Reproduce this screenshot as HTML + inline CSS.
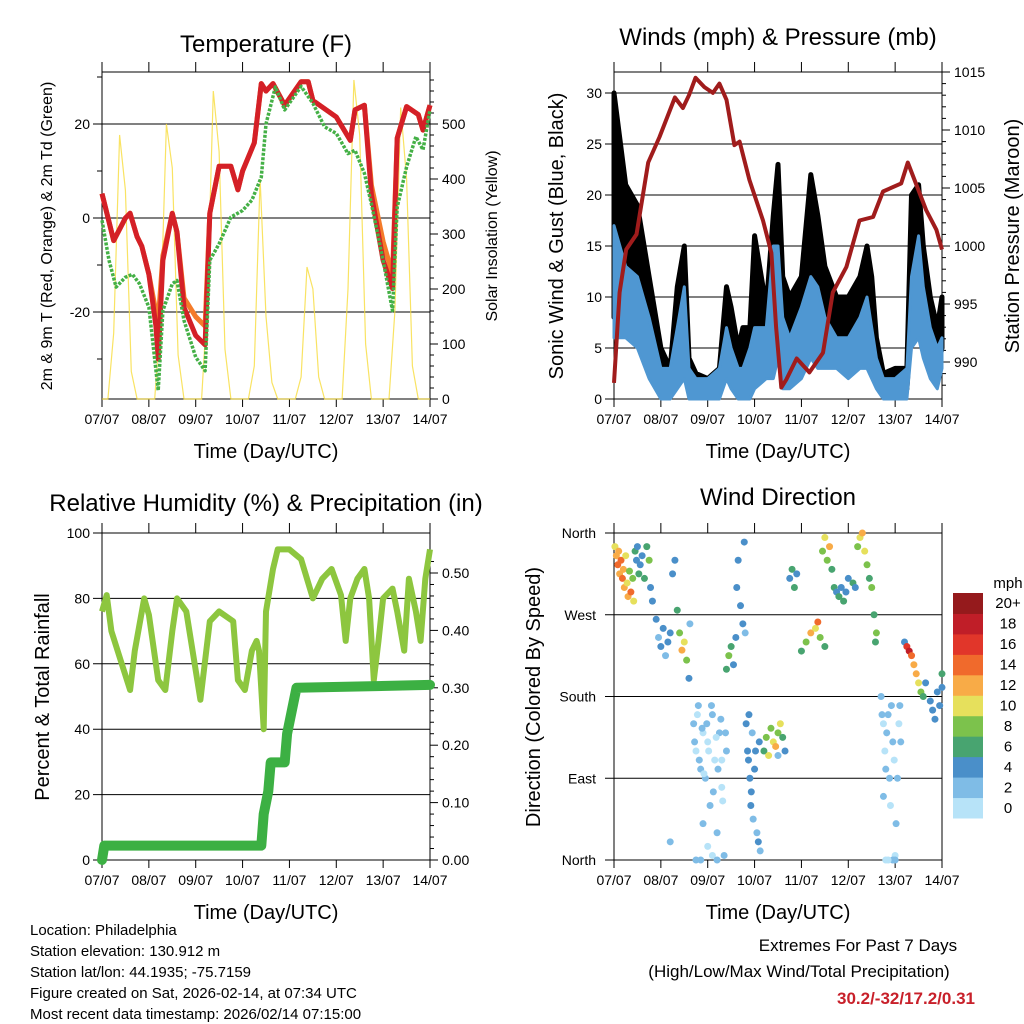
<!DOCTYPE html>
<html><head><meta charset="utf-8">
<style>
html,body{margin:0;padding:0;background:#fff;}
svg{display:block;font-family:"Liberation Sans",Arial,sans-serif;}
</style></head>
<body>
<svg id="root" width="1024" height="1024" viewBox="0 0 1024 1024" xmlns="http://www.w3.org/2000/svg">
<rect width="1024" height="1024" fill="#fff"/>
<text x="266" y="52" font-size="24" text-anchor="middle">Temperature (F)</text>
<text x="778" y="45" font-size="24" text-anchor="middle">Winds (mph) &amp; Pressure (mb)</text>
<text x="266" y="511" font-size="24" text-anchor="middle">Relative Humidity (%) &amp; Precipitation (in)</text>
<text x="778" y="505" font-size="24" text-anchor="middle">Wind Direction</text>
<text transform="translate(52,236) rotate(-90)" font-size="16" text-anchor="middle">2m &amp; 9m T (Red, Orange) &amp; 2m Td (Green)</text>
<text transform="translate(497,236) rotate(-90)" font-size="16" text-anchor="middle">Solar Insolation (Yellow)</text>
<text transform="translate(563,236) rotate(-90)" font-size="20" text-anchor="middle">Sonic Wind &amp; Gust (Blue, Black)</text>
<text transform="translate(1019,236) rotate(-90)" font-size="20" text-anchor="middle">Station Pressure (Maroon)</text>
<text transform="translate(49,697) rotate(-90)" font-size="20" text-anchor="middle">Percent &amp; Total Rainfall</text>
<text transform="translate(540,697) rotate(-90)" font-size="20" text-anchor="middle">Direction (Colored By Speed)</text>
<text x="266" y="458" font-size="20" text-anchor="middle">Time (Day/UTC)</text>
<text x="778" y="458" font-size="20" text-anchor="middle">Time (Day/UTC)</text>
<text x="266" y="919" font-size="20" text-anchor="middle">Time (Day/UTC)</text>
<text x="778" y="919" font-size="20" text-anchor="middle">Time (Day/UTC)</text>
<g font-size="15">
<text x="30" y="935">Location: Philadelphia</text>
<text x="30" y="956">Station elevation: 130.912 m</text>
<text x="30" y="977">Station lat/lon: 44.1935; -75.7159</text>
<text x="30" y="998">Figure created on Sat, 2026-02-14, at 07:34 UTC</text>
<text x="30" y="1019">Most recent data timestamp: 2026/02/14 07:15:00</text>
</g>
<text x="858" y="951" font-size="17" text-anchor="middle">Extremes For Past 7 Days</text>
<text x="799" y="977" font-size="17" text-anchor="middle">(High/Low/Max Wind/Total Precipitation)</text>
<text x="975" y="1004" font-size="17" font-weight="bold" fill="#c8202a" text-anchor="end">30.2/-32/17.2/0.31</text>
</svg>
<script>
const days=["07/07","08/07","09/07","10/07","11/07","12/07","13/07","14/07"];
// Temperature
const tT=[0,0.25,0.5,0.6,0.75,0.85,1.0,1.15,1.2,1.3,1.5,1.6,1.75,2.0,2.2,2.3,2.5,2.75,2.9,3.0,3.25,3.4,3.5,3.65,3.9,4.25,4.4,4.5,5.0,5.3,5.4,5.6,5.75,6.0,6.2,6.3,6.5,6.75,6.85,7.0];
const tRed=[5.2,-4.8,0,1,-4,-6,-12,-23,-30,-9,1,-3,-19,-25,-27,1,11,11,6,10,16,28.6,27,28.6,24,29,29,25,21.5,16.5,23,24,5,-9,-15,17,23.7,22,18.7,24];
const tOrange=[5.2,-4.8,0,1,-4,-6,-12,-20,-22,-8,1,-3,-17,-21,-23,1,11,11,6,10,16,28.6,27,28.6,24,29,29,25,21.5,16.5,23,24,7,-5,-12,17,23.7,22,18.7,24];
const tD=[0,0.15,0.3,0.5,0.65,0.8,1.0,1.2,1.3,1.5,1.6,1.75,2.0,2.2,2.3,2.5,2.75,3.0,3.2,3.4,3.5,3.7,3.9,4.25,4.5,4.75,5.0,5.25,5.4,5.6,5.75,6.0,6.2,6.3,6.5,6.7,6.85,7.0];
const tDew=[-0.5,-9,-14.7,-12.6,-12,-14,-19,-36.7,-19.7,-14,-13.3,-21.8,-29.6,-32.5,-9,-5.5,0.2,1.6,3.8,8.7,20,27.9,23,28,24.4,19.4,18,13.7,14.4,9.5,3,-9,-19.7,2.3,10.9,17.3,14.5,23];
const solar=[0,0,120,480,380,50,0,0, 0,0,150,500,420,80,0,0, 0,0,180,560,450,90,0,0, 0,0,60,400,150,30,0,0, 0,0,40,240,200,40,0,0, 0,0,200,580,480,100,0,0, 0,0,160,530,400,60,0,0, 0];
// Wind
const wT=[0,0.25,0.5,0.75,1.0,1.2,1.35,1.5,1.6,1.75,2.0,2.25,2.4,2.5,2.65,2.75,2.9,3.0,3.25,3.4,3.5,3.6,3.75,4.0,4.2,4.35,4.5,4.75,5.0,5.25,5.4,5.5,5.6,5.75,6.0,6.25,6.35,6.5,6.6,6.75,6.9,7.0];
const windLo=[6,6,5,2,0,0,1,2,0,0,0,0,2,1,0,0,0,1,2,2,4,1,1,2,4,3,3,3,2,3,3,2,1,0,0,0,5,6,4,2,1,3];
const windHi=[17,13,12,8,3,3,7,11,3,2,2,3,7,5,3,3,5,7,7,15,15,8,6,9,12,11,8,6,6,8,10,7,4,2,2,3,12,16,11,7,5,6];
const gustLo=[8,9,8,4,2,2,3,3,1,1,1,1,3,3,2,2,3,2,4,5,6,3,3,4,8,6,5,5,5,5,6,4,3,1,1,1,8,9,7,4,3,5];
const gustHi=[30,21,19,12,5,3,11,15,4,2.5,2,3,11,9,5,7,7,16,9,18,23,12,10,12,22,18,13,10,10,12,15,12,6,2.5,3,3,20,21,15,10,7,10];
const pT=[0,0.12,0.26,0.48,0.73,0.97,1.3,1.47,1.6,1.74,1.93,2.11,2.25,2.4,2.57,2.68,2.89,3.18,3.36,3.46,3.57,3.68,3.9,4.17,4.46,4.67,4.96,5.24,5.53,5.74,6.13,6.27,6.66,6.88,7.0];
const pV=[988.2,996,999.7,1001,1007.2,1009.4,1012.8,1011.9,1013,1014.5,1013.7,1013.2,1014,1012.6,1008.7,1009,1005.7,1002.2,999.4,993,987.8,988.5,990.3,989.1,990.8,996,998.2,1002.2,1002.5,1004.7,1005.4,1007.2,1003.1,1001.4,999.7];
// Humidity & rain
const rhT=[0,0.1,0.2,0.4,0.6,0.7,0.9,1.0,1.2,1.35,1.5,1.6,1.8,2.0,2.1,2.3,2.5,2.8,2.9,3.05,3.2,3.3,3.35,3.45,3.5,3.65,3.75,4.0,4.25,4.5,4.7,4.9,5.1,5.2,5.3,5.45,5.6,5.7,5.8,5.9,6.0,6.2,6.3,6.45,6.55,6.7,6.8,6.9,7.0];
const rhV=[76,81,70,61,52,64,80,75,55,52,70,80,76,58,49,73,76,73,55,52,64,67,64,40,76,89,95,95,92,80,86,89,81,67,80,86,89,80,55,67,80,83,76,64,86,76,67,86,95];
const rainT=[0,0.05,3.4,3.45,3.55,3.6,3.9,3.95,4.05,4.15,7.0];
const rainV=[0,0.025,0.025,0.08,0.12,0.17,0.17,0.22,0.26,0.3,0.305];
// Wind direction
const dT=[0.02,0.05,0.08,0.1,0.12,0.15,0.18,0.2,0.22,0.25,0.28,0.3,0.33,0.36,0.4,0.42,0.45,0.48,0.5,0.53,0.56,0.6,0.65,0.7,0.75,0.78,0.82,
0.9,0.95,1.0,1.05,1.1,1.15,1.2,1.25,1.3,1.35,1.4,1.45,1.5,1.55,1.6,1.62,
1.7,1.75,1.8,1.85,1.9,1.95,2.0,2.05,2.1,2.15,2.2,2.25,2.3,2.35,2.4,2.1,1.85,1.2,
2.4,2.45,2.5,2.55,2.6,2.62,2.65,2.7,2.75,2.78,2.8,
2.85,2.9,2.92,2.95,3.0,3.05,3.1,3.12,2.88,
3.2,3.25,3.3,3.35,3.4,3.45,3.5,3.55,3.6,3.65,3.5,
3.75,3.8,3.85,3.9,4.0,4.1,4.2,4.3,4.35,4.4,4.5,
4.45,4.5,4.55,4.6,4.65,4.7,4.75,4.8,4.85,4.9,4.95,5.0,5.1,5.15,
5.2,5.25,5.3,5.35,5.4,5.45,5.5,5.55,5.6,5.58,
5.7,5.75,5.8,5.85,5.9,5.95,6.0,6.05,6.1,5.8,5.95,
6.2,6.25,6.3,6.35,6.4,6.45,6.5,6.55,6.6,6.65,6.75,6.8,6.85,6.9,6.95,7.0,7.0,
1.72,1.78,1.82,1.88,1.92,1.98,2.02,2.08,2.12,2.18,2.22,2.28,2.32,2.38,1.9,2.0,2.2,1.75,2.3,
2.82,2.87,2.93,2.97,3.02,3.08,
5.72,5.78,5.82,5.88,5.92,5.98,6.02,6.08,6.12,5.85,6.0,5.75];
const dDir=[345,335,325,340,315,330,310,320,300,335,305,290,318,295,310,285,340,330,345,315,325,335,310,345,330,300,285,
265,245,235,255,225,240,250,315,330,275,250,231,240,220,200,260,
150,120,170,100,140,90,130,60,160,110,30,140,80,5,120,5,0,20,
210,225,235,215,245,300,330,280,260,350,250,
120,90,60,140,100,30,130,10,160,
120,135,115,145,130,125,140,150,135,120,115,
310,320,300,315,230,240,250,255,262,245,235,
340,355,330,345,320,300,295,290,300,285,295,310,305,300,
345,355,360,340,325,310,300,270,250,240,
180,150,100,160,60,130,5,90,170,0,0,
240,235,230,225,215,205,195,185,180,195,175,165,155,185,170,190,205,
130,160,110,145,95,150,120,170,75,135,100,155,65,140,40,15,0,0,110,
150,110,75,45,120,20,
160,120,140,90,170,110,40,150,130,0,0,70];
const dSpd=[10,12,13,11,12,14,13,11,12,10,9,12,8,13,7,9,5,4,4,6,4,4,5,6,7,4,3,
3,2,3,4,2,3,4,3,4,6,8,12,10,8,3,2,
1,0,2,1,0,1,0,2,1,0,1,1,0,1,2,0,1,2,
6,8,6,4,4,3,4,3,4,3,2,
3,4,3,2,3,2,3,2,4,
6,8,10,7,9,12,8,10,6,4,2,
4,5,6,3,6,8,12,10,13,8,6,
8,10,7,11,6,5,4,6,4,5,3,4,6,4,
8,10,11,9,8,6,8,6,7,5,
1,0,1,2,0,1,0,1,2,0,1,
4,16,18,14,12,12,10,8,6,4,4,4,3,4,3,4,6,
1,0,1,2,0,1,0,1,1,0,1,2,0,1,1,0,1,2,0,
3,4,3,2,3,4,
1,0,1,1,2,0,1,0,1,0,1,1];
const cbColors=["#b7e3f8","#7fbce6","#4a8fc9","#48a470","#7cc24c","#e6e05c","#f8ab47","#f06a2c","#e1362a","#c01e28","#951a1c"];
const cbLabels=["0","2","4","6","8","10","12","14","16","18","20+"];

const NS="http://www.w3.org/2000/svg";
const root=document.getElementById('root');
function mk(tag,attrs,parent){const e=document.createElementNS(NS,tag);for(const k in attrs)e.setAttribute(k,attrs[k]);(parent||root).appendChild(e);return e;}
function lin(d0,d1,r0,r1){return v=>r0+(v-d0)/(d1-d0)*(r1-r0);}

function frame(x0,x1,y0,y1,name){
  const g=mk('g',{});
  
  
  const xs=lin(0,7,x0,x1);
  for(let i=0;i<8;i++){
    const x=xs(i);
    mk('line',{x1:x,x2:x,y1:y1,y2:y1+8,stroke:'#000','stroke-width':1},g);
    mk('line',{x1:x,x2:x,y1:y0,y2:y0-10,stroke:'#000','stroke-width':1},g);
    const t=mk('text',{x:x,y:y1+25,'font-size':14,'text-anchor':'middle'},g);
    t.textContent=days[i];
    
    
  }
  return {g,xs};
}
function box(x0,x1,y0,y1,g){mk('rect',{x:x0,y:y0,width:x1-x0,height:y1-y0,fill:'none',stroke:'#000','stroke-width':1},g);}
function pts(xa,ya,xs,ys){return xa.map((t,i)=>xs(t).toFixed(1)+','+ys(ya[i]).toFixed(1)).join(' ');}

// ---------- Panel 1: Temperature ----------
(function(){
  const x0=102,x1=430,y0=72,y1=399;
  const {g,xs}=frame(x0,x1,y0,y1,'temperature');
  const ys=lin(20,-20,124,312);
  const ss=lin(0,500,399,124);
  [-20,0,20].forEach(v=>{
    mk('line',{x1:x0-9,x2:x1,y1:ys(v),y2:ys(v),stroke:'#000','stroke-width':1},g);
    const t=mk('text',{x:x0-12,y:ys(v)+5,'font-size':14,'text-anchor':'end'},g);
    t.textContent=v;
    
    
  });
  [-30,-10,10,30].forEach(v=>mk('line',{x1:x0-5,x2:x0,y1:ys(v),y2:ys(v),stroke:'#000'},g));
  for(let v=0;v<=580;v+=20){const y=ss(v);mk('line',{x1:x1,x2:x1+(v%100==0?8:4),y1:y,y2:y,stroke:'#000'},g);}
  [0,100,200,300,400,500].forEach(v=>{
    const t=mk('text',{x:x1+12,y:ss(v)+5,'font-size':14},g);
    t.textContent=v;
    
    
  });
  const sT=solar.map((v,i)=>i/8);
  const sl=mk('polyline',{points:pts(sT,solar,xs,ss),fill:'none',stroke:'#f8dc3c','stroke-width':1.2,'stroke-opacity':0.8});
  
  
  const ol=mk('polyline',{points:pts(tT,tOrange,xs,ys),fill:'none',stroke:'#f47b2a','stroke-width':5,'stroke-linejoin':'round'});
  
  
  const rl=mk('polyline',{points:pts(tT,tRed,xs,ys),fill:'none',stroke:'#d42027','stroke-width':5,'stroke-linejoin':'round'});
  
  
  const gl=mk('polyline',{points:pts(tD,tDew,xs,ys),fill:'none',stroke:'#44b046','stroke-width':3.5,'stroke-dasharray':'3,1.5','stroke-linejoin':'round'});
  
  
  box(x0,x1,y0,y1,g);
})();

// ---------- Panel 2: Wind & Pressure ----------
(function(){
  const x0=614,x1=942,y0=72,y1=399;
  const {g,xs}=frame(x0,x1,y0,y1,'wind');
  const ys=lin(0,30,399,93);
  const ps=lin(1015,990,72,362);
  [0,5,10,15,20,25,30].forEach(v=>{
    mk('line',{x1:x0-9,x2:x1,y1:ys(v),y2:ys(v),stroke:'#000','stroke-width':1},g);
    const t=mk('text',{x:x0-12,y:ys(v)+5,'font-size':14,'text-anchor':'end'},g);
    t.textContent=v;
    
    
  });
  for(let v=988;v<=1015;v++){const y=ps(v);mk('line',{x1:x1,x2:x1+(v%5==0?8:4),y1:y,y2:y,stroke:'#000'},g);}
  [990,995,1000,1005,1010,1015].forEach(v=>{
    const t=mk('text',{x:x1+12,y:ps(v)+5,'font-size':14},g);
    t.textContent=v;
    
    
  });
  const band=(lo,hi)=>wT.map((t,i)=>xs(t).toFixed(1)+','+ys(hi[i]).toFixed(1)).join(' ')+' '+wT.slice().reverse().map((t,j)=>{const i=wT.length-1-j;return xs(t).toFixed(1)+','+ys(lo[i]).toFixed(1);}).join(' ');
  const gb=mk('polygon',{points:band(gustLo,gustHi),fill:'#000',stroke:'#000','stroke-width':5,'stroke-linejoin':'round'});
  
  
  const wb=mk('polygon',{points:band(windLo,windHi),fill:'#4f97d2',stroke:'#4f97d2','stroke-width':3,'stroke-linejoin':'round'});
  
  
  const pl=mk('polyline',{points:pts(pT,pV,xs,ps),fill:'none',stroke:'#a01c1c','stroke-width':4,'stroke-linejoin':'round'});
  
  
  box(x0,x1,y0,y1,g);
})();

// ---------- Panel 3: Humidity & Rain ----------
(function(){
  const x0=102,x1=430,y0=533,y1=860;
  const {g,xs}=frame(x0,x1,y0,y1,'humidity');
  const ys=lin(0,100,860,533);
  const rs=lin(0,0.5,860,573);
  [0,20,40,60,80,100].forEach(v=>{
    mk('line',{x1:x0-9,x2:x1,y1:ys(v),y2:ys(v),stroke:'#000','stroke-width':1},g);
    const t=mk('text',{x:x0-12,y:ys(v)+5,'font-size':14,'text-anchor':'end'},g);
    t.textContent=v;
    
    
  });
  for(let v=0;v<=0.54;v+=0.02){const y=rs(v);const maj=Math.abs(v*10-Math.round(v*10))<1e-6;mk('line',{x1:x1,x2:x1+(maj?8:4),y1:y,y2:y,stroke:'#000'},g);}
  [0,0.1,0.2,0.3,0.4,0.5].forEach(v=>{
    const t=mk('text',{x:x1+12,y:rs(v)+5,'font-size':14},g);
    t.textContent=v.toFixed(2);
    
    
  });
  const hl=mk('polyline',{points:pts(rhT,rhV,xs,ys),fill:'none',stroke:'#8dc63f','stroke-width':6,'stroke-linejoin':'round'});
  
  
  const rl=mk('polyline',{points:pts(rainT,rainV,xs,rs),fill:'none',stroke:'#3cb043','stroke-width':10,'stroke-linejoin':'round','stroke-linecap':'round'});
  
  
  box(x0,x1,y0,y1,g);
})();

// ---------- Panel 4: Wind direction ----------
(function(){
  const x0=614,x1=942,y0=533,y1=860;
  const {g,xs}=frame(x0,x1,y0,y1,'direction');
  const ys=lin(0,360,860,533);
  const names=["North","East","South","West","North"];
  [0,90,180,270,360].forEach((v,i)=>{
    mk('line',{x1:x0-9,x2:x1,y1:ys(v),y2:ys(v),stroke:'#000','stroke-width':1},g);
    const t=mk('text',{x:x0-18,y:ys(v)+5,'font-size':14,'text-anchor':'end'},g);
    t.textContent=names[i];
    
    
  });
  const dg=mk('g',{});
  
  
  dT.forEach((t,i)=>{
    const bin=Math.min(10,Math.round(dSpd[i]/2));
    const c=mk('circle',{cx:xs(t),cy:ys(dDir[i]),r:3.5,fill:cbColors[bin]},dg);
    
    
  });
  box(x0,x1,y0,y1,g);
  // colorbar
  const cb=mk('g',{});
  
  
  const cy0=593,ch=225/11;
  const u=mk('text',{x:1008,y:588,'font-size':15,'text-anchor':'middle'},cb);
  u.textContent='mph';
  
  
  cbColors.forEach((col,i)=>{
    const y=cy0+(10-i)*ch;
    const r=mk('rect',{x:953,y:y,width:30,height:ch+0.5,fill:col},cb);
    
    
    const t=mk('text',{x:1008,y:y+ch/2+5,'font-size':15,'text-anchor':'middle'},cb);
    t.textContent=cbLabels[i];
    
    
  });
})();
</script>
</body></html>
